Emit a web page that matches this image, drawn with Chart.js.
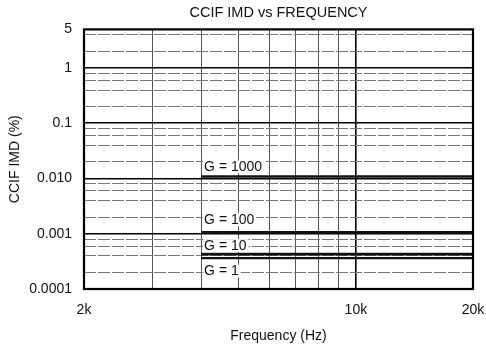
<!DOCTYPE html>
<html><head><meta charset="utf-8">
<script src="https://cdn.jsdelivr.net/npm/chart.js@4"></script>
<style>html,body{margin:0;padding:0;background:#fff}#wrap{width:486px;height:347px}</style>
</head><body><div id="wrap"><canvas id="c" width="486" height="347"></canvas></div>
<script>
// ---- data ----
const gainLabels = ['G = 1000', 'G = 100', 'G = 10', 'G = 1'];
const freqStart = [4000, 4000, 4000, 4000];
const freqEnd = [20000, 20000, 20000, 20000];
const imdValues = [0.0109, 0.00106, 0.000427, 0.000362];
const xMajorTicks = [2000, 10000, 20000];
const xMajorLabels = ['2k', '10k', '20k'];
const xMinorTicks = [3000, 4000, 5000, 6000, 7000, 8000, 9000];
const yMajorTicks = [0.0001, 0.001, 0.01, 0.1, 1, 5];
const yMajorLabels = ['0.0001', '0.001', '0.010', '0.1', '1', '5'];
const yMinorTicks = [0.0002, 0.0004, 0.0006, 0.0008, 0.002, 0.004, 0.006, 0.008,
  0.02, 0.04, 0.06, 0.08, 0.2, 0.4, 0.6, 0.8, 2, 4];

// ---- styling (not data) ----
const FONT = 'Liberation Sans, Arial, Helvetica, sans-serif';
const labelOffsets = [-9, -12, -8, 13.5];
const lineWidths = [2.5, 2.8, 2.8, 2.4];

const datasets = gainLabels.map((g, i) => ({
  label: g,
  data: [{x: freqStart[i], y: imdValues[i]}, {x: freqEnd[i], y: imdValues[i]}],
  borderColor: '#111',
  borderWidth: lineWidths[i],
  pointRadius: 0,
  fill: false
}));

const allXTicks = xMajorTicks.concat(xMinorTicks).sort((a, b) => a - b);

const framePlugin = {
  id: 'frame',
  afterDatasetsDraw(chart) {
    const a = chart.chartArea, ctx = chart.ctx;
    ctx.save();
    ctx.strokeStyle = '#000';
    ctx.lineWidth = 2.2;
    ctx.strokeRect(a.left, a.top, a.right - a.left, a.bottom - a.top);
    ctx.restore();
  }
};

const labelPlugin = {
  id: 'gainLabels',
  afterDatasetsDraw(chart) {
    const ctx = chart.ctx, xs = chart.scales.x, ys = chart.scales.y;
    ctx.save();
    ctx.font = '14px ' + FONT;
    ctx.textBaseline = 'middle';
    ctx.textAlign = 'left';
    gainLabels.forEach((g, i) => {
      const x = xs.getPixelForValue(freqStart[i]) + 2;
      const y = ys.getPixelForValue(imdValues[i]) + labelOffsets[i];
      const w = ctx.measureText(g).width;
      ctx.fillStyle = '#fff';
      ctx.fillRect(x, y - 7, w + 3, 13);
      ctx.fillStyle = '#111';
      ctx.fillText(g, x + 1, y);
    });
    ctx.restore();
  }
};

new Chart(document.getElementById('c'), {
  type: 'line',
  data: {datasets},
  plugins: [framePlugin, labelPlugin],
  options: {
    responsive: false,
    devicePixelRatio: 1,
    animation: false,
    layout: {padding: {left: 0, right: 13, top: 0, bottom: 0}},
    plugins: {
      legend: {display: false},
      tooltip: {enabled: false},
      title: {
        display: true,
        fullSize: false,
        text: 'CCIF IMD vs FREQUENCY',
        color: '#111',
        font: {family: FONT, size: 14.5, weight: 'normal'},
        padding: {top: 4, bottom: 8}
      }
    },
    scales: {
      x: {
        type: 'logarithmic',
        position: 'bottom',
        min: 2000, max: 20000,
        afterBuildTicks(s) { s.ticks = allXTicks.map(v => ({value: v})); },
        afterFit(s) { s.height = 58; s.paddingLeft = 0; s.paddingRight = 0; },
        ticks: {
          autoSkip: false, maxRotation: 0, padding: 13, color: '#111',
          font: {family: FONT, size: 14},
          callback(v) { const k = xMajorTicks.indexOf(v); return k >= 0 ? xMajorLabels[k] : ''; }
        },
        grid: {
          drawTicks: false,
          color(ctx) { const v = ctx.tick && ctx.tick.value; return v === 10000 ? '#000' : '#555'; },
          lineWidth(ctx) {
            const v = ctx.tick && ctx.tick.value;
            if (v === 2000 || v === 20000) return 0;
            return v === 10000 ? 1.6 : 1;
          }
        },
        border: {display: false},
        title: {
          display: true, text: 'Frequency (Hz)', color: '#111',
          font: {family: FONT, size: 14}, padding: {top: 0, bottom: 2}
        }
      },
      y: {
        type: 'logarithmic',
        position: 'left',
        min: 0.0001, max: 5,
        afterBuildTicks(s) { s.ticks = yMajorTicks.map(v => ({value: v})); },
        afterFit(s) { s.width = 84; s.paddingTop = 0; s.paddingBottom = 0; },
        ticks: {
          autoSkip: false, padding: 12, color: '#111',
          font: {family: FONT, size: 14},
          callback(v) { const k = yMajorTicks.indexOf(v); return k >= 0 ? yMajorLabels[k] : ''; }
        },
        grid: {
          drawTicks: false,
          color: '#000',
          lineWidth(ctx) { const v = ctx.tick && ctx.tick.value; return (v === 5 || v === 0.0001) ? 0 : 1.6; }
        },
        border: {display: false},
        title: {
          display: true, text: 'CCIF IMD (%)', color: '#111',
          font: {family: FONT, size: 14}, padding: {top: 7, bottom: 0}
        }
      },
      yMinor: {
        type: 'logarithmic',
        position: 'left',
        min: 0.0001, max: 5,
        afterBuildTicks(s) { s.ticks = yMinorTicks.map(v => ({value: v})); },
        afterFit(s) { s.width = 0; s.paddingTop = 0; s.paddingBottom = 0; },
        ticks: {display: false},
        grid: {drawTicks: false, color: '#777', lineWidth: 1},
        border: {display: false, dash: [12, 2]}
      }
    }
  }
});
</script>
</body></html>
